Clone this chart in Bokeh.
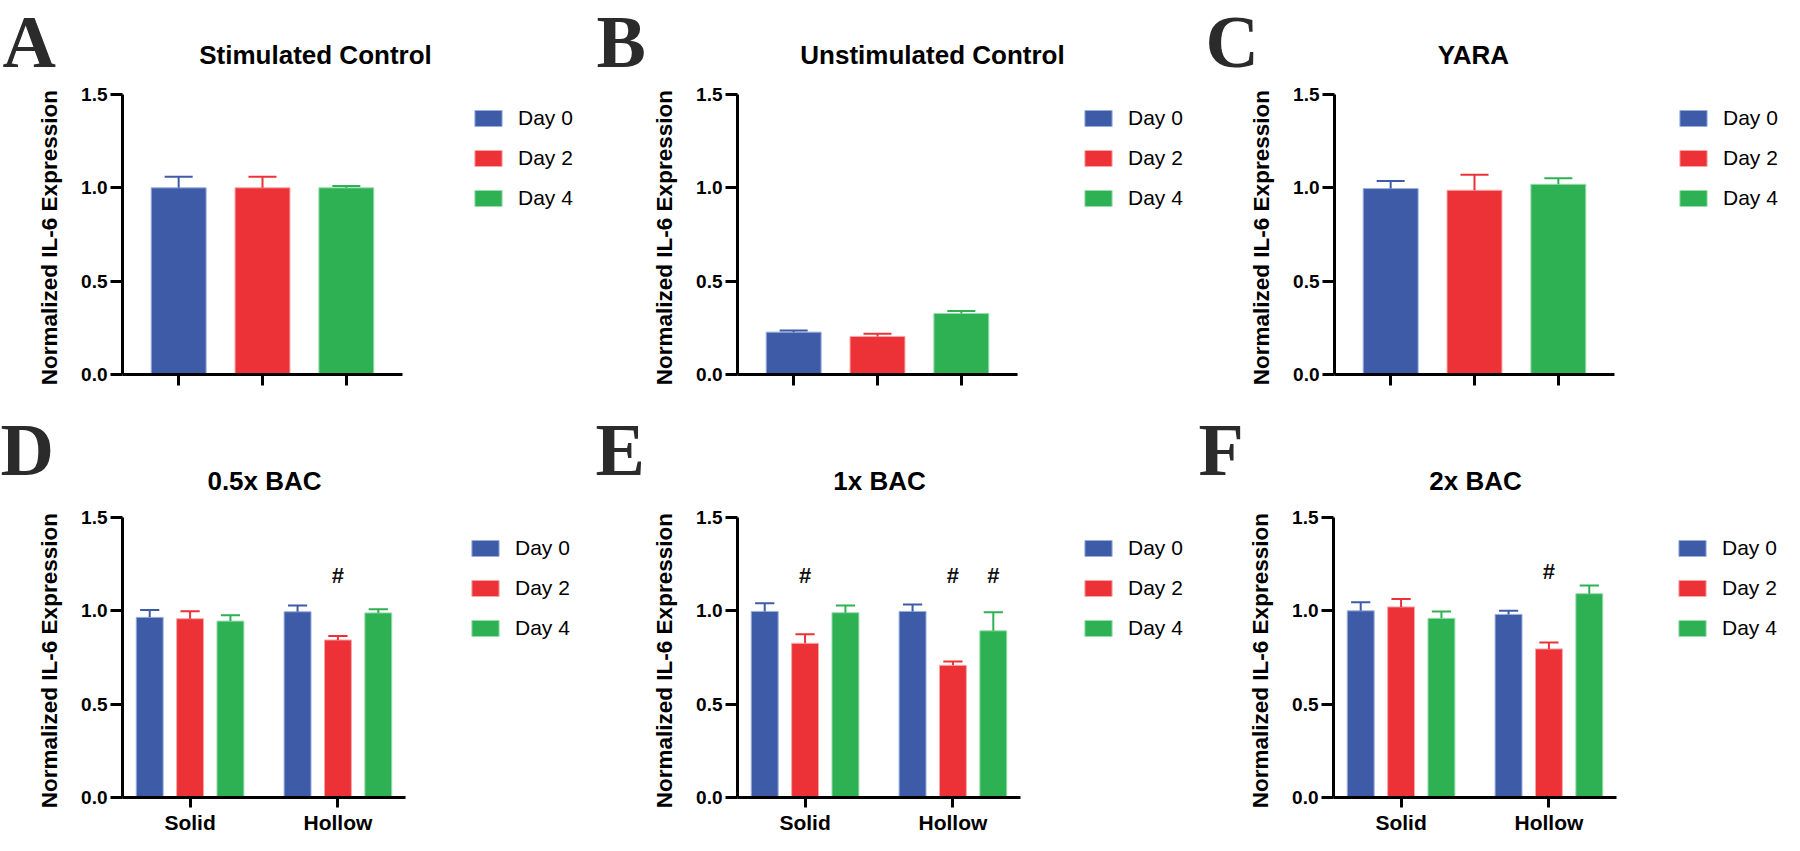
from bokeh.plotting import figure
from bokeh.layouts import column, row
from bokeh.models import (Label, Legend, LegendItem, FixedTicker, NumeralTickFormatter,
                          Range1d, ColumnDataSource)
from bokeh.core.properties import value
from bokeh.embed import file_html
from bokeh.resources import INLINE

# ---------------- data ----------------
days = ["Day 0", "Day 2", "Day 4"]
colors = ["#3E5BA8", "#EC3237", "#2EB153"]
edges = ["#9AAEDD", "#F7A5A7", "#98DDAE"]

# top row: one bar per day
stim_mean = [1.00, 1.00, 1.00]
stim_err = [0.06, 0.06, 0.01]
unstim_mean = [0.227, 0.204, 0.327]
unstim_err = [0.009, 0.014, 0.013]
yara_mean = [0.996, 0.987, 1.019]
yara_err = [0.041, 0.083, 0.033]

# bottom row: per day -> [Solid, Hollow]
groups = ["Solid", "Hollow"]
bac05_mean = [[0.965, 0.995], [0.958, 0.844], [0.945, 0.989]]
bac05_err = [[0.039, 0.033], [0.040, 0.021], [0.032, 0.020]]
bac05_sig = [["", ""], ["", "#"], ["", ""]]
bac05_sig_y = 1.19

bac1_mean = [[0.997, 0.997], [0.826, 0.708], [0.990, 0.893]]
bac1_err = [[0.044, 0.037], [0.049, 0.021], [0.039, 0.100]]
bac1_sig = [["", ""], ["#", "#"], ["", "#"]]
bac1_sig_y = 1.19

bac2_mean = [[1.000, 0.981], [1.021, 0.796], [0.960, 1.092]]
bac2_err = [[0.046, 0.019], [0.043, 0.034], [0.036, 0.044]]
bac2_sig = [["", ""], ["", "#"], ["", ""]]
bac2_sig_y = 1.21

panel_letters = ["A", "B", "C", "D", "E", "F"]
panel_titles = ["Stimulated Control", "Unstimulated Control", "YARA",
                "0.5x BAC", "1x BAC", "2x BAC"]

y_ticks = [0, 0.5, 1.0, 1.5]
y_label = "Normalized IL-6  Expression"

SANS = "Liberation Sans"
SERIF = "Liberation Serif"
PAGE_W = 1784


def header(y0, height, letters, letter_x, letter_top, titles, title_x, title_base):
    h = figure(width=PAGE_W, height=height,
               x_range=Range1d(8, 8 + PAGE_W), y_range=Range1d(y0 + height, y0),
               x_axis_location=None, y_axis_location=None, min_border=0,
               output_backend="svg", toolbar_location=None)
    h.outline_line_color = None
    h.grid.visible = False
    for t, x in zip(letters, letter_x):
        h.add_layout(Label(x=x, y=letter_top, text=t, text_font=SERIF,
                           text_font_style="bold", text_font_size="74px",
                           text_color="#2b2b2b", text_align="left",
                           text_baseline="top"))
    for t, x in zip(titles, title_x):
        h.add_layout(Label(x=x, y=title_base, text=t, text_font=SANS,
                           text_font_style="bold", text_font_size="26px",
                           text_color="black", text_align="center",
                           text_baseline="alphabetic"))
    return h


def base_fig(col_x, fig_w, fig_h, fl, top, fw, fh, xr):
    left = fl - col_x
    fw_total = col_x + fig_w - fl
    x_end = xr[0] + fw_total / fw * (xr[1] - xr[0])
    p = figure(width=fig_w, height=fig_h, frame_width=fw_total, frame_height=fh,
               min_border_left=left, min_border_top=top, min_border_right=0,
               min_border_bottom=fig_h - top - fh,
               x_range=Range1d(xr[0], x_end), y_range=Range1d(0, 1.5),
               output_backend="svg", toolbar_location=None)
    p.outline_line_color = None
    p.grid.visible = False
    p.background_fill_color = "white"
    p.border_fill_color = "white"
    ya = p.yaxis[0]
    ya.ticker = FixedTicker(ticks=y_ticks)
    ya.formatter = NumeralTickFormatter(format="0.0")
    ya.axis_line_width = 3
    ya.major_tick_line_width = 3
    ya.major_tick_out = 12
    ya.major_tick_in = 0
    ya.minor_tick_line_color = None
    ya.major_label_text_font = SANS
    ya.major_label_text_font_style = "bold"
    ya.major_label_text_font_size = "19px"
    ya.major_label_text_color = "black"
    ya.major_label_standoff = 3
    ya.axis_label = y_label
    ya.axis_label_text_font = SANS
    ya.axis_label_text_font_style = "bold"
    ya.axis_label_text_font_size = "22.5px"
    ya.axis_label_text_color = "black"
    ya.axis_label_standoff = 16
    xa = p.xaxis[0]
    xa.bounds = xr
    xa.axis_line_width = 3
    xa.major_tick_line_width = 3
    xa.major_tick_out = 11
    xa.major_tick_in = 0
    xa.minor_tick_line_color = None
    xa.major_label_text_font = SANS
    xa.major_label_text_font_style = "bold"
    xa.major_label_text_font_size = "21px"
    xa.major_label_text_color = "black"
    xa.major_label_standoff = 3
    return p


def add_legend(p, renderers, legend_x, fh, top_offset):
    items = [LegendItem(label=d, renderers=[r]) for d, r in zip(days, renderers)]
    item_h, gap = 24, 16
    leg_h = 3 * item_h + 2 * gap
    leg = Legend(items=items, location=(legend_x, fh - top_offset - leg_h),
                 glyph_width=34, glyph_height=20, label_height=item_h, spacing=gap,
                 padding=0, margin=0, border_line_color=None, background_fill_alpha=0,
                 label_text_font=SANS, label_text_font_size="21px", label_standoff=13,
                 label_text_color="black")
    p.add_layout(leg)


def top_panel(col_x, fig_w, fl, mean, err, legend_x):
    fh, fw = 280, 280
    xr = (-0.67, 2.67)
    p = base_fig(col_x, fig_w, 323, fl, 12, fw, fh, xr)
    rends = []
    cap = 0.167
    for i in range(3):
        src = ColumnDataSource(dict(x=[i], top=[mean[i]], hi=[mean[i] + err[i]],
                                    x0=[i - cap], x1=[i + cap]))
        r = p.vbar(x="x", top="top", bottom=0, width=0.655, source=src,
                   fill_color=colors[i], line_color=edges[i], line_width=1)
        p.segment(x0="x", y0="top", x1="x", y1="hi", source=src,
                  line_color=colors[i], line_width=2)
        p.segment(x0="x0", y0="hi", x1="x1", y1="hi", source=src,
                  line_color=colors[i], line_width=2)
        rends.append(r)
    p.xaxis[0].ticker = FixedTicker(ticks=[0, 1, 2])
    p.xaxis[0].major_label_overrides = {0: " ", 1: " ", 2: " "}
    p.xaxis[0].major_label_text_font_size = "1px"
    add_legend(p, rends, legend_x, fh, 12)
    return p


def bottom_panel(col_x, fig_w, fl, mean, err, sig, sig_y, legend_x):
    fh, fw = 280, 283
    xr = (-0.457, 1.457)
    p = base_fig(col_x, fig_w, 330, fl, 12, fw, fh, xr)
    p.xaxis[0].major_tick_out = 10
    off = 0.273
    cap = 0.065
    rends = []
    for i in range(3):
        xs = [g + (i - 1) * off for g in range(len(groups))]
        his = [m + e for m, e in zip(mean[i], err[i])]
        src = ColumnDataSource(dict(x=xs, top=mean[i], hi=his,
                                    x0=[x - cap for x in xs], x1=[x + cap for x in xs],
                                    sig=sig[i], sy=[sig_y] * len(xs)))
        r = p.vbar(x="x", top="top", bottom=0, width=0.182, source=src,
                   fill_color=colors[i], line_color=edges[i], line_width=1)
        p.segment(x0="x", y0="top", x1="x", y1="hi", source=src,
                  line_color=colors[i], line_width=2)
        p.segment(x0="x0", y0="hi", x1="x1", y1="hi", source=src,
                  line_color=colors[i], line_width=2)
        p.text(x="x", y="sy", text="sig", source=src, text_font=value(SANS),
               text_font_style="bold", text_font_size="22px", text_color="#111111",
               text_align="center", text_baseline="middle")
        rends.append(r)
    p.xaxis[0].ticker = FixedTicker(ticks=list(range(len(groups))))
    p.xaxis[0].major_label_overrides = {i: g for i, g in enumerate(groups)}
    add_legend(p, rends, legend_x, fh, 19)
    return p


h_top = header(8, 82, panel_letters[:3], [10, 604, 1213], 8,
               panel_titles[:3], [323, 940, 1481], 62)
pA = top_panel(8, 594, 130, stim_mean, stim_err, 349)
pB = top_panel(602, 594, 745, unstim_mean, unstim_err, 344)
pC = top_panel(1196, 596, 1342, yara_mean, yara_err, 342)

h_bot = header(413, 100, panel_letters[3:], [8, 603, 1206], 416,
               panel_titles[3:], [272, 887, 1483], 488)
pD = bottom_panel(8, 594, 130, bac05_mean, bac05_err, bac05_sig, bac05_sig_y, 346)
pE = bottom_panel(602, 594, 745, bac1_mean, bac1_err, bac1_sig, bac1_sig_y, 344)
pF = bottom_panel(1196, 596, 1341, bac2_mean, bac2_err, bac2_sig, bac2_sig_y, 342)

layout = column(h_top, row(pA, pB, pC), h_bot, row(pD, pE, pF))
open("out.html", "w").write(file_html(layout, INLINE))
